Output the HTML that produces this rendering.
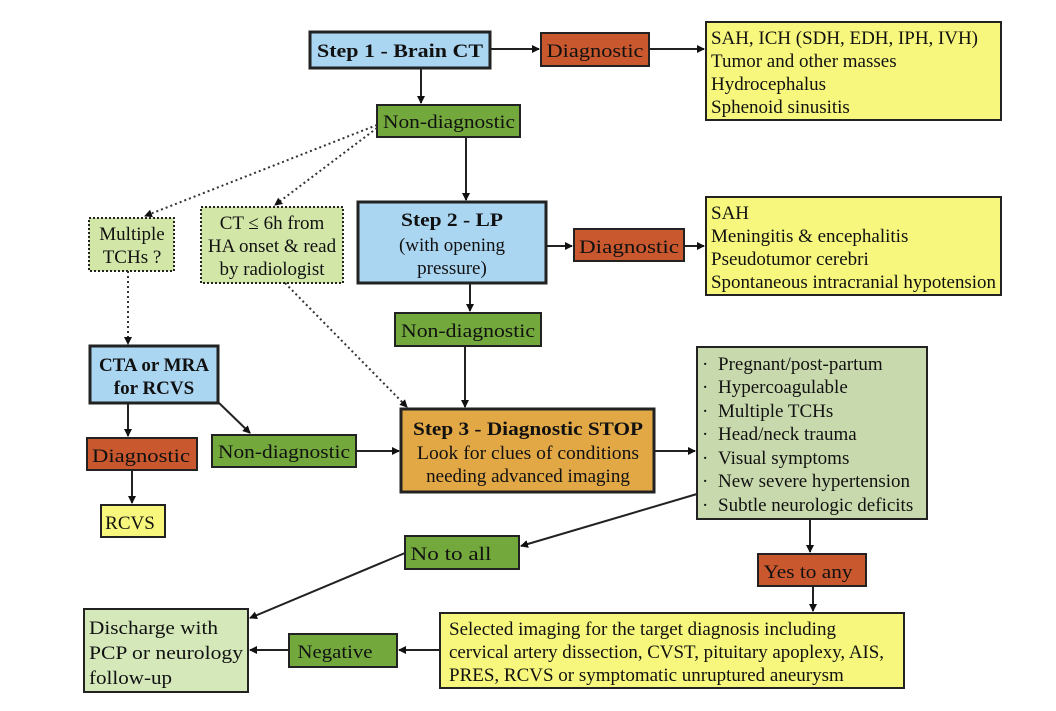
<!DOCTYPE html>
<html><head><meta charset="utf-8"><style>
html,body{margin:0;padding:0;background:#fff;}
svg{display:block;}
text{font-family:"Liberation Serif",serif;font-size:19px;fill:#111;}
.b{font-weight:bold;}
</style></head><body>
<svg width="1056" height="711" viewBox="0 0 1056 711" xmlns="http://www.w3.org/2000/svg">
<defs>
<marker id="a" markerWidth="8" markerHeight="8" refX="7" refY="4" orient="auto" markerUnits="userSpaceOnUse"><path d="M0,0 L8,4 L0,8 Z" fill="#111"/></marker>
</defs>
<g stroke="#222" stroke-width="2">
<rect x="310" y="32" width="180" height="36" fill="#abd6f2" stroke-width="3"/>
<rect x="541" y="33" width="108" height="33" fill="#c9582f"/>
<rect x="706" y="22" width="295" height="98" fill="#f6f77c"/>
<rect x="377" y="105" width="143" height="32" fill="#72a83c"/>
<rect x="89" y="218" width="85" height="53" fill="#d2e6a8" stroke-dasharray="2,2"/>
<rect x="201" y="207" width="142" height="76" fill="#d2e6a8" stroke-dasharray="2,2"/>
<rect x="358" y="202" width="188" height="81" fill="#abd6f2" stroke-width="3"/>
<rect x="574" y="229" width="110" height="32" fill="#c9582f"/>
<rect x="706" y="197" width="295" height="98" fill="#f6f77c"/>
<rect x="395" y="313" width="146" height="33" fill="#72a83c"/>
<rect x="90" y="346" width="128" height="57" fill="#abd6f2" stroke-width="3"/>
<rect x="87" y="438" width="110" height="32" fill="#c9582f"/>
<rect x="212" y="435" width="144" height="32" fill="#72a83c"/>
<rect x="101" y="505" width="64" height="32" fill="#f6f77c"/>
<rect x="401" y="409" width="253" height="83" fill="#e2a845" stroke-width="3"/>
<rect x="697" y="347" width="230" height="172" fill="#c9d9ae"/>
<rect x="405" y="536" width="114" height="33" fill="#72a83c"/>
<rect x="758" y="554" width="108" height="32" fill="#c9582f"/>
<rect x="84" y="609" width="164" height="83" fill="#d4e8ba"/>
<rect x="289" y="634" width="108" height="33" fill="#72a83c"/>
<rect x="440" y="613" width="464" height="75" fill="#f6f77c"/>
</g>
<g stroke="#222" stroke-width="2" fill="none" marker-end="url(#a)">
<line x1="490" y1="49" x2="539" y2="49"/>
<line x1="649" y1="49" x2="704" y2="49"/>
<line x1="421" y1="68" x2="421" y2="103"/>
<line x1="466" y1="137" x2="466" y2="200"/>
<line x1="546" y1="246" x2="572" y2="246"/>
<line x1="684" y1="246" x2="704" y2="246"/>
<line x1="470" y1="283" x2="470" y2="311"/>
<line x1="465" y1="346" x2="465" y2="407"/>
<line x1="128" y1="403" x2="128" y2="436"/>
<line x1="218" y1="402" x2="250" y2="433"/>
<line x1="132" y1="470" x2="132" y2="503"/>
<line x1="356" y1="451" x2="399" y2="451"/>
<line x1="654" y1="451" x2="695" y2="451"/>
<line x1="697" y1="494" x2="521" y2="546"/>
<line x1="810" y1="519" x2="810" y2="552"/>
<line x1="813" y1="587" x2="813" y2="611"/>
<line x1="405" y1="553" x2="250" y2="618"/>
<line x1="440" y1="650" x2="399" y2="650"/>
<line x1="289" y1="650" x2="250" y2="650"/>
</g>
<g stroke="#333" stroke-width="2" fill="none" stroke-dasharray="2,3" marker-end="url(#a)">
<line x1="377" y1="125" x2="145" y2="216"/>
<line x1="377" y1="128" x2="275" y2="205"/>
<line x1="128" y1="271" x2="128" y2="344"/>
<line x1="285" y1="283" x2="407" y2="407"/>
</g>
<text class="b" x="400" y="57" text-anchor="middle" font-size="22" textLength="166" lengthAdjust="spacingAndGlyphs">Step 1 - Brain CT</text>
<text x="595" y="57" text-anchor="middle" font-size="22" textLength="97" lengthAdjust="spacingAndGlyphs">Diagnostic</text>
<text x="711" y="44" textLength="267" lengthAdjust="spacingAndGlyphs">SAH, ICH (SDH, EDH, IPH, IVH)</text>
<text x="711" y="67">Tumor and other masses</text>
<text x="711" y="90">Hydrocephalus</text>
<text x="711" y="113">Sphenoid sinusitis</text>
<text x="449" y="128" text-anchor="middle" font-size="21" textLength="132" lengthAdjust="spacingAndGlyphs">Non-diagnostic</text>
<text x="132" y="240" text-anchor="middle" font-size="17">Multiple</text>
<text x="132" y="263" text-anchor="middle" font-size="17">TCHs ?</text>
<text x="272" y="229" text-anchor="middle" font-size="17.5">CT ≤ 6h from</text>
<text x="272" y="252" text-anchor="middle" font-size="17.5">HA onset &amp; read</text>
<text x="272" y="275" text-anchor="middle" font-size="17.5">by radiologist</text>
<text class="b" x="452" y="226" text-anchor="middle" font-size="22" textLength="102" lengthAdjust="spacingAndGlyphs">Step 2 - LP</text>
<text x="452" y="251" text-anchor="middle">(with opening</text>
<text x="452" y="274" text-anchor="middle">pressure)</text>
<text x="629" y="253" text-anchor="middle" font-size="22" textLength="100" lengthAdjust="spacingAndGlyphs">Diagnostic</text>
<text x="711" y="219">SAH</text>
<text x="711" y="242">Meningitis &amp; encephalitis</text>
<text x="711" y="265">Pseudotumor cerebri</text>
<text x="711" y="288" textLength="285" lengthAdjust="spacingAndGlyphs">Spontaneous intracranial hypotension</text>
<text x="468" y="337" text-anchor="middle" font-size="21" textLength="134" lengthAdjust="spacingAndGlyphs">Non-diagnostic</text>
<text class="b" x="154" y="371" text-anchor="middle" font-size="20.5">CTA or MRA</text>
<text class="b" x="154" y="394" text-anchor="middle" font-size="20.5">for RCVS</text>
<text x="141" y="462" text-anchor="middle" font-size="22" textLength="98" lengthAdjust="spacingAndGlyphs">Diagnostic</text>
<text x="284" y="458" text-anchor="middle" font-size="21" textLength="132" lengthAdjust="spacingAndGlyphs">Non-diagnostic</text>
<text x="130" y="529" text-anchor="middle">RCVS</text>
<text class="b" x="528" y="435" text-anchor="middle" font-size="22" textLength="230" lengthAdjust="spacingAndGlyphs">Step 3 - Diagnostic STOP</text>
<text x="528" y="459" text-anchor="middle" textLength="222" lengthAdjust="spacingAndGlyphs">Look for clues of conditions</text>
<text x="528" y="482" text-anchor="middle">needing advanced imaging</text>
<g>
<text x="702" y="370">·</text><text x="718" y="370">Pregnant/post-partum</text>
<text x="702" y="393">·</text><text x="718" y="393">Hypercoagulable</text>
<text x="702" y="417">·</text><text x="718" y="417">Multiple TCHs</text>
<text x="702" y="440">·</text><text x="718" y="440">Head/neck trauma</text>
<text x="702" y="464">·</text><text x="718" y="464">Visual symptoms</text>
<text x="702" y="487">·</text><text x="718" y="487">New severe hypertension</text>
<text x="702" y="511">·</text><text x="718" y="511">Subtle neurologic deficits</text>
</g>
<text x="451" y="560" font-size="22" text-anchor="middle" textLength="81" lengthAdjust="spacingAndGlyphs">No to all</text>
<text x="808" y="578" font-size="22" text-anchor="middle" textLength="89" lengthAdjust="spacingAndGlyphs">Yes to any</text>
<text x="89" y="634" font-size="22" textLength="129" lengthAdjust="spacingAndGlyphs">Discharge with</text>
<text x="89" y="659" font-size="22" textLength="154" lengthAdjust="spacingAndGlyphs">PCP or neurology</text>
<text x="89" y="684" font-size="22" textLength="83" lengthAdjust="spacingAndGlyphs">follow-up</text>
<text x="335" y="658" font-size="22" text-anchor="middle" textLength="75" lengthAdjust="spacingAndGlyphs">Negative</text>
<text x="449" y="635" font-size="17.8">Selected imaging for the target diagnosis including</text>
<text x="449" y="658" font-size="17.8" textLength="435" lengthAdjust="spacingAndGlyphs">cervical artery dissection, CVST, pituitary apoplexy, AIS,</text>
<text x="449" y="681" font-size="17.8">PRES, RCVS or symptomatic unruptured aneurysm</text>
</svg>
</body></html>
